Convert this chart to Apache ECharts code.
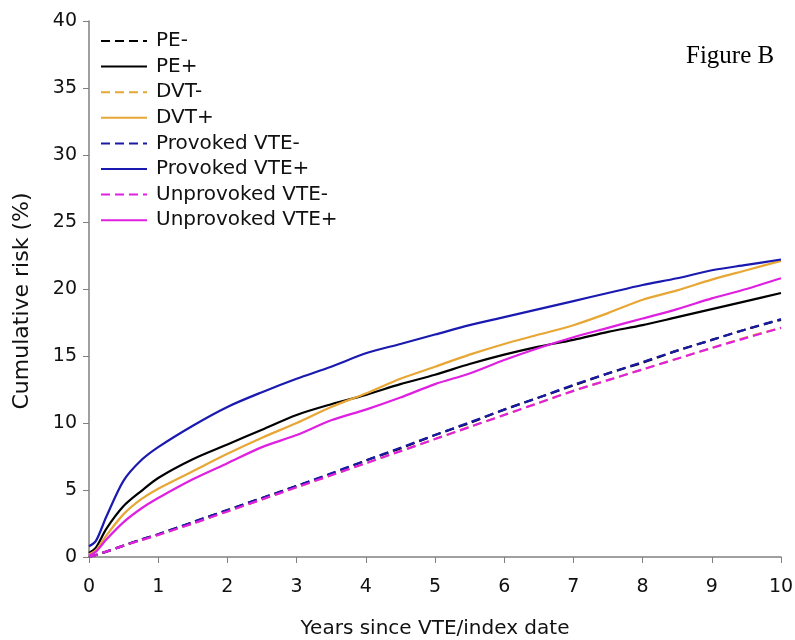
<!DOCTYPE html>
<html>
<head>
<meta charset="utf-8">
<script src="https://cdn.jsdelivr.net/npm/echarts@6/dist/echarts.min.js"></script>
<style>
  html, body { margin: 0; padding: 0; background: #fff; }
  #chart { width: 795px; height: 640px; }
</style>
</head>
<body>
<div id="chart"></div>
<script>
// years since VTE / index date
const years = [0, 0.1, 0.25, 0.5, 0.75, 1, 1.5, 2, 2.5, 3, 3.5, 4, 4.5, 5, 5.5, 6, 6.5, 7, 7.5, 8, 8.5, 9, 9.5, 10];

// cumulative risk (%)
const peNeg = [0, 0.15, 0.4, 0.85, 1.3, 1.7, 2.6, 3.5, 4.4, 5.3, 6.2, 7.2, 8.1, 9.1, 10.0, 11.0, 11.9, 12.8, 13.7, 14.5, 15.4, 16.2, 17.0, 17.7];
const pePos = [0.3, 0.7, 2.1, 3.8, 4.9, 5.9, 7.3, 8.4, 9.5, 10.6, 11.4, 12.1, 12.9, 13.6, 14.4, 15.1, 15.7, 16.2, 16.8, 17.3, 17.9, 18.5, 19.1, 19.7];
const dvtNeg = [0, 0.15, 0.4, 0.85, 1.25, 1.65, 2.5, 3.4, 4.3, 5.2, 6.1, 7.0, 7.9, 8.8, 9.7, 10.6, 11.5, 12.4, 13.2, 14.0, 14.8, 15.6, 16.4, 17.1];
const dvtPos = [0.2, 0.5, 1.6, 3.2, 4.3, 5.1, 6.4, 7.7, 8.9, 10.0, 11.2, 12.2, 13.3, 14.2, 15.1, 15.9, 16.6, 17.3, 18.2, 19.2, 19.9, 20.7, 21.4, 22.1];
const provNeg = [0, 0.15, 0.4, 0.85, 1.3, 1.7, 2.6, 3.5, 4.4, 5.3, 6.25, 7.2, 8.15, 9.1, 10.05, 11.0, 11.9, 12.85, 13.7, 14.55, 15.4, 16.2, 17.0, 17.75];
const provPos = [0.8, 1.2, 3.0, 5.7, 7.2, 8.2, 9.8, 11.2, 12.3, 13.3, 14.2, 15.2, 15.9, 16.6, 17.3, 17.9, 18.5, 19.1, 19.7, 20.3, 20.8, 21.4, 21.8, 22.2];
const unprovNeg = [0, 0.15, 0.4, 0.85, 1.25, 1.65, 2.5, 3.4, 4.3, 5.2, 6.1, 7.0, 7.9, 8.8, 9.7, 10.6, 11.5, 12.4, 13.2, 14.0, 14.8, 15.6, 16.35, 17.1];
const unprovPos = [0.1, 0.4, 1.3, 2.6, 3.6, 4.4, 5.8, 7.0, 8.2, 9.1, 10.2, 11.0, 11.9, 12.9, 13.7, 14.7, 15.6, 16.4, 17.1, 17.8, 18.5, 19.3, 20.0, 20.8];

const seriesNames = ['PE-', 'PE+', 'DVT-', 'DVT+', 'Provoked VTE-', 'Provoked VTE+', 'Unprovoked VTE-', 'Unprovoked VTE+'];
const seriesValues = [peNeg, pePos, dvtNeg, dvtPos, provNeg, provPos, unprovNeg, unprovPos];
const seriesColors = ['#000000', '#000000', '#e8a735', '#e8a735', '#1a1aa8', '#1a1ab0', '#e020e0', '#e020e0'];

const font = 'DejaVu Sans';

const series = seriesNames.map((name, i) => {
  const dashed = name.endsWith('-');
  return {
    name,
    type: 'line',
    symbol: 'none',
    smooth: 0.3,
    data: years.map((x, j) => [x, seriesValues[i][j]]),
    lineStyle: {
      color: seriesColors[i],
      width: 2.2,
      type: dashed ? [9, 5] : 'solid'
    },
    itemStyle: { color: seriesColors[i] }
  };
});

const options = {
  backgroundColor: '#fff',
  animation: false,
  // outerBoundsMode none: keep the plot box where it is, the x title sits near the bottom edge
  grid: { left: 89, right: 14, top: 21, bottom: 83, outerBoundsMode: 'none' },
  graphic: [
    {
      type: 'text',
      left: 686,
      top: 44,
      style: { text: 'Figure B', font: '25px "Liberation Serif"', fill: '#000' }
    },
    {
      // y axis title, placed by hand to sit a bit below the axis middle as in the source
      type: 'text',
      x: 22,
      y: 301,
      rotation: Math.PI / 2,
      style: {
        text: 'Cumulative risk (%)',
        font: '22px "DejaVu Sans"',
        fill: '#111',
        align: 'center',
        verticalAlign: 'middle'
      }
    }
  ],
  legend: {
    orient: 'vertical',
    left: 95,
    top: 26,
    itemWidth: 46,
    itemHeight: 14,
    itemGap: 5.6,
    data: seriesNames,
    itemStyle: { opacity: 0 },
    textStyle: { fontFamily: font, fontSize: 20, lineHeight: 20, color: '#111', padding: [0, 0, 0, 4] }
  },
  xAxis: {
    type: 'value',
    min: 0,
    max: 10,
    interval: 1,
    name: 'Years since VTE/index date',
    nameLocation: 'middle',
    nameGap: 62,
    nameTextStyle: { fontFamily: font, fontSize: 20, color: '#111' },
    axisLine: { lineStyle: { color: '#808080', width: 1.5 } },
    axisTick: { show: true, length: 6, lineStyle: { color: '#808080' } },
    axisLabel: { fontFamily: font, fontSize: 19, color: '#111', margin: 21 },
    splitLine: { show: false }
  },
  yAxis: {
    type: 'value',
    min: 0,
    max: 40,
    interval: 5,
    axisLine: { show: true, lineStyle: { color: '#808080', width: 1.5 } },
    axisTick: { show: true, length: 6, lineStyle: { color: '#808080' } },
    axisLabel: { fontFamily: font, fontSize: 19, color: '#111', margin: 12 },
    splitLine: { show: false }
  },
  series
};

const chart = echarts.init(document.getElementById('chart'));
chart.setOption(options);

window.addEventListener('resize', () => {
  chart.resize();
});
</script>
</body>
</html>
